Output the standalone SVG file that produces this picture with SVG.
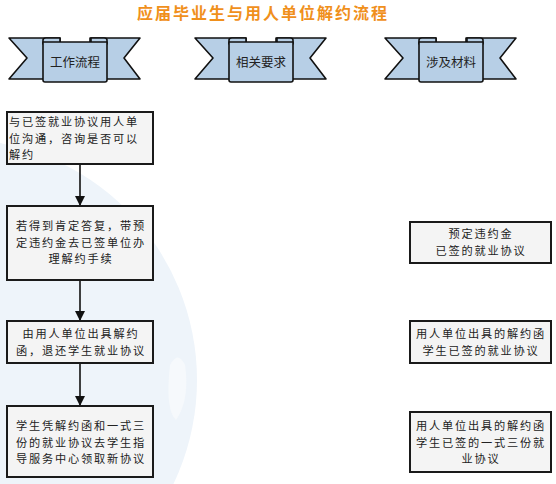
<svg xmlns="http://www.w3.org/2000/svg" width="556" height="484" viewBox="0 0 556 484">
<defs>
<style>
.t{font-family:"Noto Sans CJK SC","Liberation Sans",sans-serif;font-size:11.2px;letter-spacing:1.8px;fill:#222}
.h{font-family:"Noto Sans CJK SC","Liberation Sans",sans-serif;font-size:12.5px;fill:#222;text-anchor:middle}
.c{text-anchor:middle}
.box{fill:#f4f4f4;stroke:#1a1a1a;stroke-width:2}
.rib{fill:#b7cfe6;stroke:#111;stroke-width:1.6;stroke-linejoin:round}
.ln{stroke:#111;stroke-width:1.6;fill:none}
</style>
<marker id="ah" markerWidth="10" markerHeight="10" refX="9" refY="5" orient="auto" markerUnits="userSpaceOnUse">
<path d="M0,0 L10,5 L0,10 Z" fill="#111"/>
</marker>
<g id="banner">
<path class="rib" d="M9,38 L60,38 L60,79 L9,79 L27,58 Z"/>
<path class="rib" d="M140,38 L90,38 L90,79 L140,79 L124,58 Z"/>
<path class="rib" d="M43,44 L43,40 Q43,38 46,38 L60,38 L60,43 Z"/>
<path class="rib" d="M107,44 L107,40 Q107,38 104,38 L91,38 L91,43 Z"/>
<path class="rib" d="M43,42 L107,42 L107,80 Q107,82 105,82 L45,82 Q43,82 43,80 Z"/>
</g>
</defs>
<rect width="556" height="484" fill="#fff"/>
<circle cx="-44" cy="380" r="241" fill="#eef4fa"/>
<path d="M170,365 Q178,350 185,365 Q190,400 176,420 Q165,410 170,365 Z" fill="#f6f9fc"/>
<text x="263" y="19" text-anchor="middle" style="font-family:'Noto Sans CJK SC','Liberation Sans',sans-serif;font-size:16px;letter-spacing:2px;font-weight:bold;fill:#f0901c">应届毕业生与用人单位解约流程</text>

<g id="h1"><use href="#banner"/><text class="h" x="75" y="67">工作流程</text></g>
<g id="h2"><use href="#banner" x="186"/><text class="h" x="261" y="67">相关要求</text></g>
<g id="h3"><use href="#banner" x="376"/><text class="h" x="451" y="67">涉及材料</text></g>

<g id="connectors">
<line class="ln" x1="80" y1="164" x2="80" y2="205" marker-end="url(#ah)"/>
<line class="ln" x1="80" y1="280" x2="80" y2="320" marker-end="url(#ah)"/>
<line class="ln" x1="80" y1="363" x2="80" y2="405" marker-end="url(#ah)"/>
</g>

<g id="s1"><rect class="box" x="7" y="112" width="146" height="52"/>
<text class="t" x="9" y="126">与已签就业协议用人单</text>
<text class="t" x="9" y="142.5">位沟通，咨询是否可以</text>
<text class="t" x="9" y="159">解约</text></g>

<g id="s2"><rect class="box" x="7" y="206" width="146" height="74"/>
<text class="t c" x="81" y="230">若得到肯定答复，带预</text>
<text class="t c" x="81" y="246.5">定违约金去已签单位办</text>
<text class="t c" x="81" y="263">理解约手续</text></g>

<g id="s3"><rect class="box" x="7" y="321" width="146" height="42"/>
<text class="t c" x="81" y="338">由用人单位出具解约</text>
<text class="t c" x="81" y="355">函，退还学生就业协议</text></g>

<g id="s4"><rect class="box" x="7" y="406" width="146" height="71"/>
<text class="t c" x="81" y="430">学生凭解约函和一式三</text>
<text class="t c" x="81" y="446.5">份的就业协议去学生指</text>
<text class="t c" x="81" y="463">导服务中心领取新协议</text></g>

<g id="m1"><rect class="box" x="410" y="222" width="141" height="41"/>
<text class="t c" x="481" y="238">预定违约金</text>
<text class="t c" x="481" y="255">已签的就业协议</text></g>

<g id="m2"><rect class="box" x="410" y="321" width="141" height="42"/>
<text class="t c" x="481" y="338">用人单位出具的解约函</text>
<text class="t c" x="481" y="355">学生已签的就业协议</text></g>

<g id="m3"><rect class="box" x="410" y="412" width="141" height="60"/>
<text class="t c" x="481" y="430">用人单位出具的解约函</text>
<text class="t c" x="481" y="446.5">学生已签的一式三份就</text>
<text class="t c" x="481" y="463">业协议</text></g>
</svg>
